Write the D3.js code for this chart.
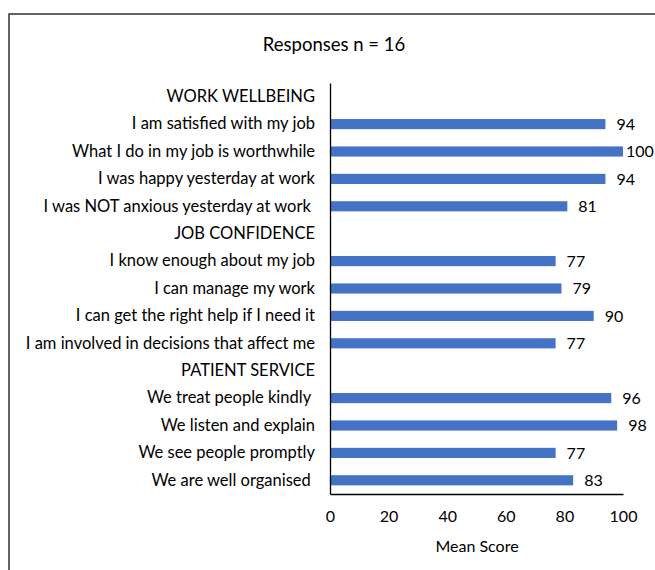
<!DOCTYPE html>
<html>
<head>
<meta charset="utf-8">
<script src="https://cdn.jsdelivr.net/npm/d3@7"></script>
<style>
  body { margin: 0; background: #fff; }
  text { font-family: Lato, "Open Sans", sans-serif; fill: #000; white-space: pre; }
</style>
</head>
<body>
<div id="chart"></div>
<script>
// rows from top to bottom; section headers have no value
var categories = [
    "WORK WELLBEING",
    "I am satisfied with my job",
    "What I do in my job is worthwhile",
    "I was happy yesterday at work",
    "I was NOT anxious yesterday at work ",
    "JOB CONFIDENCE",
    "I know enough about my job",
    "I can manage my work",
    "I can get the right help if I need it",
    "I am involved in decisions that affect me",
    "PATIENT SERVICE",
    "We treat people kindly ",
    "We listen and explain",
    "We see people promptly",
    "We are well organised "
];
var values = [null, 94, 100, 94, 81, null, 77, 79, 90, 77, null, 96, 98, 77, 83];
var xTicks = [0, 20, 40, 60, 80, 100];

var w = 655, h = 570;
var plotLeft = 330, plotRight = 623, plotTop = 83, plotBottom = 494;

var svg = d3.select("#chart").append("svg")
    .attr("width", w)
    .attr("height", h);

// outer frame
svg.append("rect")
    .attr("x", 9).attr("y", 14)
    .attr("width", 700).attr("height", 600)
    .attr("fill", "none")
    .attr("stroke", "#333")
    .attr("stroke-width", 1.5);

var rows = categories.map(function(c, i) { return { cat: c, val: values[i], key: i }; });

var xScale = d3.scaleLinear().domain([0, 100]).range([plotLeft, plotRight]);
var yScale = d3.scaleBand()
    .domain(rows.map(function(d) { return d.key; }))
    .range([plotTop, plotBottom])
    .paddingInner(0.63)
    .paddingOuter(0.315);

svg.append("text")
    .attr("x", 334).attr("y", 51)
    .attr("text-anchor", "middle")
    .style("font-size", "18.5px")
    .text("Responses n = 16");

// bars
var data = rows.filter(function(d) { return d.val !== null; });
svg.selectAll("rect.bar")
    .data(data)
    .enter().append("rect")
    .attr("class", "bar")
    .attr("x", xScale(0))
    .attr("y", function(d) { return yScale(d.key); })
    .attr("width", function(d) { return xScale(d.val) - xScale(0); })
    .attr("height", yScale.bandwidth())
    .attr("fill", "#4472C4");

// value labels
svg.selectAll("text.val")
    .data(data)
    .enter().append("text")
    .attr("class", "val")
    .attr("x", function(d) { return xScale(d.val) + (d.val === 100 ? 3 : 11); })
    .attr("y", function(d) { return yScale(d.key) + yScale.bandwidth() / 2; })
    .attr("dy", "0.35em")
    .style("font-size", "16px")
    .text(function(d) { return d.val; });

// category axis
var yAxis = d3.axisLeft(yScale)
    .tickSize(0)
    .tickPadding(15)
    .tickFormat(function(k) { return categories[k]; });
var gy = svg.append("g")
    .attr("transform", "translate(" + plotLeft + ",0)")
    .call(yAxis);
gy.select(".domain").attr("stroke", "#000").attr("stroke-width", 1.3);
gy.selectAll("text")
    .style("font-size", "16.5px")
    .style("font-family", "Lato, sans-serif")
    .attr("fill", "#000");

// value axis
var xAxis = d3.axisBottom(xScale)
    .tickValues(xTicks)
    .tickSize(0)
    .tickPadding(17);
var gx = svg.append("g")
    .attr("transform", "translate(0," + plotBottom + ")")
    .call(xAxis);
gx.select(".domain").attr("stroke", "#000").attr("stroke-width", 1.3);
gx.selectAll("text")
    .style("font-size", "16px")
    .style("font-family", "Lato, sans-serif")
    .attr("fill", "#000");

svg.append("text")
    .attr("x", 477).attr("y", 552)
    .attr("text-anchor", "middle")
    .style("font-size", "16px")
    .text("Mean Score");
</script>
</body>
</html>
